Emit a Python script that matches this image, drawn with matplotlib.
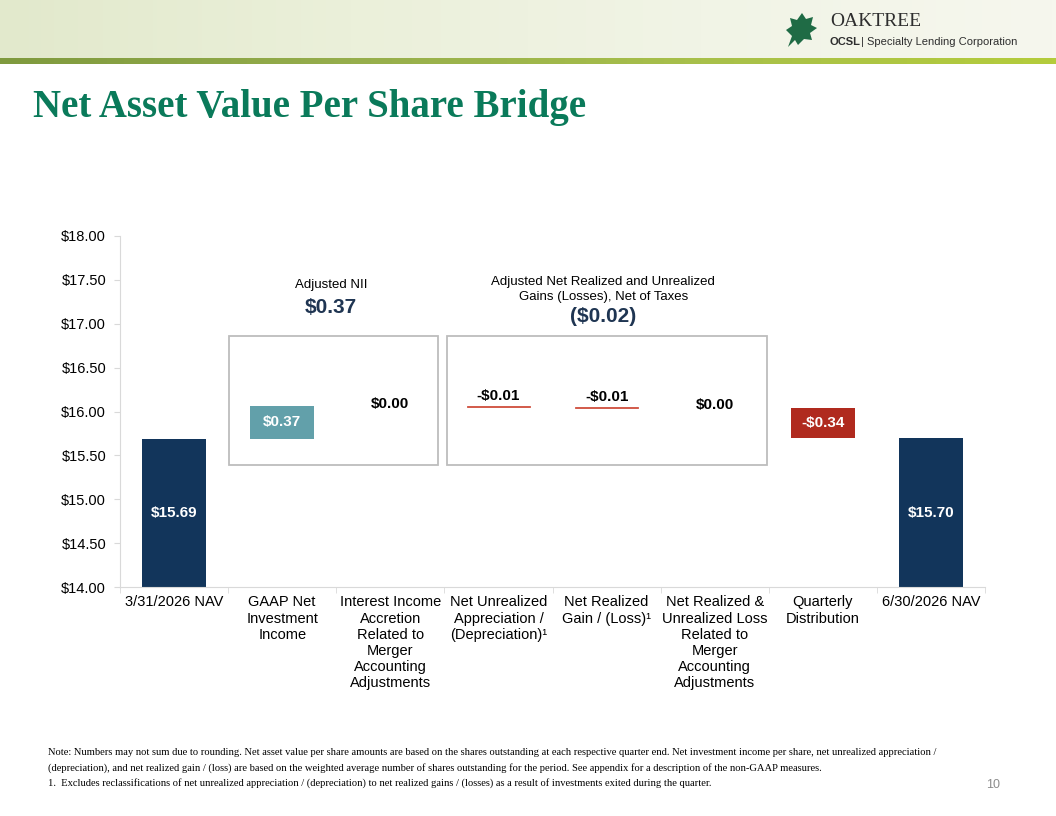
import numpy as np
import matplotlib
matplotlib.use("Agg")
import matplotlib.pyplot as plt
from matplotlib.patches import Rectangle, Polygon
from matplotlib.colors import LinearSegmentedColormap

# ---- data ----
categories = [
    "3/31/2026 NAV",
    "GAAP Net\nInvestment\nIncome",
    "Interest Income\nAccretion\nRelated to\nMerger\nAccounting\nAdjustments",
    "Net Unrealized\nAppreciation /\n(Depreciation)\u00b9",
    "Net Realized\nGain / (Loss)\u00b9",
    "Net Realized &\nUnrealized Loss\nRelated to\nMerger\nAccounting\nAdjustments",
    "Quarterly\nDistribution",
    "6/30/2026 NAV",
]
start_nav = 15.69
changes = [0.37, 0.00, -0.01, -0.01, 0.00, -0.34]
end_nav = 15.70
change_labels = ["$0.37", "$0.00", "-$0.01", "-$0.01", "$0.00", "-$0.34"]
yticks = [14.0, 14.5, 15.0, 15.5, 16.0, 16.5, 17.0, 17.5, 18.0]
adj_nii = "$0.37"
adj_gains = "($0.02)"

NAVY = "#12355b"
TEAL = "#62a0aa"
RED = "#b02a1e"
GREEN_TITLE = "#0a7a5a"
SANS = ["Liberation Sans", "DejaVu Sans"]
SERIF = ["Liberation Serif", "DejaVu Serif"]
plt.rcParams["font.family"] = SANS

fig = plt.figure(figsize=(10.56, 8.16), dpi=100)

# ---- header banner ----
hdr = fig.add_axes([0, 1 - 58 / 816, 1, 58 / 816])
grad = np.linspace(0, 1, 256)[None, :]
cm = LinearSegmentedColormap.from_list("hdr", ["#e2e9cc", "#ebf0da", "#f1f4e6", "#f6f7ee"])
hdr.imshow(grad, aspect="auto", cmap=cm, extent=[0, 1, 0, 1])
hdr.set_xlim(0, 1); hdr.set_ylim(0, 1); hdr.axis("off")
stripe = fig.add_axes([0, 1 - 64 / 816, 1, 6 / 816])
cs = LinearSegmentedColormap.from_list("str", ["#7f9a3e", "#96ae4c", "#a8c04a", "#b4cc3c"])
stripe.imshow(grad, aspect="auto", cmap=cs, extent=[0, 1, 0, 1])
stripe.axis("off")

# logo
leaf = Polygon([(788, 47), (792, 36), (786, 30), (792, 26), (790, 18), (797, 20),
                (802, 13), (806, 19), (813, 17), (811, 25), (817, 28), (810, 33),
                (812, 40), (804, 39), (798, 45), (795, 40)],
               closed=True, fc="#1f6b45", ec="none")
leaf.set_transform(matplotlib.transforms.Affine2D().scale(1, -1).translate(0, 816))
fig.patches.append(leaf)
fig.text(830 / 1056, 1 - 22 / 816, "OAKTREE", family=SERIF, fontsize=14,
         color="#2e2e2e", va="center", ha="left")
fig.text(830 / 1056, 1 - 42 / 816, "OCSL", fontsize=8, fontweight="bold",
         color="#2e2e2e", va="center", ha="left")
fig.text(861 / 1056, 1 - 42 / 816, "| Specialty Lending Corporation", fontsize=8,
         color="#2e2e2e", va="center", ha="left")

# title
fig.text(33 / 1056, 1 - 107 / 816, "Net Asset Value Per Share Bridge", family=SERIF,
         fontsize=28, fontweight="bold", color=GREEN_TITLE, va="center", ha="left")

# ---- chart ----
ax = fig.add_axes([120 / 1056, 1 - 587 / 816, 865 / 1056, 351 / 816])
n = len(categories)
x = np.arange(n)
W = 0.59

ax.bar(0, start_nav - 14, bottom=14, width=W, color=NAVY)
ax.bar(n - 1, end_nav - 14, bottom=14, width=W, color=NAVY)
ax.text(0, 14.84, f"${start_nav:.2f}", ha="center", va="center", color="white",
        fontsize=11, fontweight="bold")
ax.text(n - 1, 14.84, f"${end_nav:.2f}", ha="center", va="center", color="white",
        fontsize=11, fontweight="bold")

level = start_nav
for i, (c, lab) in enumerate(zip(changes, change_labels), start=1):
    new = level + c
    if i == 1:
        ax.bar(i, c, bottom=level, width=W, color=TEAL)
        ax.text(i, level + c / 2, lab, ha="center", va="center", color="white",
                fontsize=11, fontweight="bold")
    elif i == 6:
        ax.bar(i, c, bottom=level, width=W, color=RED)
        ax.text(i, level + c / 2, lab, ha="center", va="center", color="white",
                fontsize=11, fontweight="bold")
    elif c == 0:
        ax.text(i, new + 0.03, lab, ha="center", va="center", color="black",
                fontsize=11, fontweight="bold")
    else:
        ax.bar(i, c, bottom=level, width=W, color="#d0503f", ec="#d0503f", lw=0.6)
        ax.text(i, level + 0.04, lab, ha="center", va="bottom", color="black",
                fontsize=11, fontweight="bold")
    level = new

# group boxes
ax.add_patch(Rectangle((0.51, 15.39), 1.93, 1.47, fill=False, ec="#bdbdbd", lw=1.3))
ax.add_patch(Rectangle((2.525, 15.39), 2.96, 1.47, fill=False, ec="#bdbdbd", lw=1.3))

ax.text(1.45, 17.44, "Adjusted NII", ha="center", va="center", fontsize=9.5)
ax.text(1.45, 17.18, adj_nii, ha="center", va="center", fontsize=15,
        fontweight="bold", color="#1f3552")
ax.text(3.97, 17.39, "Adjusted Net Realized and Unrealized\nGains (Losses), Net of Taxes",
        ha="center", va="center", fontsize=9.5, linespacing=1.35)
ax.text(3.97, 17.08, adj_gains, ha="center", va="center", fontsize=15,
        fontweight="bold", color="#1f3552")

ax.set_xlim(-0.5, n - 0.5)
ax.set_ylim(14, 18)
ax.set_yticks(yticks)
ax.set_yticklabels([f"${v:.2f}" for v in yticks], fontsize=10.5)
ax.set_xticks(x)
ax.set_xticklabels(categories, fontsize=10.5, linespacing=1.2)
ax.set_xticks(np.arange(n + 1) - 0.5, minor=True)
ax.tick_params(axis="x", which="major", length=0, pad=6)
ax.tick_params(axis="x", which="minor", length=4, color="#d9d9d9")
ax.tick_params(axis="y", length=4, color="#d9d9d9", pad=6)
for s in ["top", "right"]:
    ax.spines[s].set_visible(False)
for s in ["left", "bottom"]:
    ax.spines[s].set_color("#d9d9d9")

# footnotes
notes = ("Note: Numbers may not sum due to rounding. Net asset value per share amounts are based on the shares "
         "outstanding at each respective quarter end. Net investment income per share, net unrealized appreciation /\n"
         "(depreciation), and net realized gain / (loss) are based on the weighted average number of shares "
         "outstanding for the period. See appendix for a description of the non-GAAP measures.\n"
         "1.  Excludes reclassifications of net unrealized appreciation / (depreciation) to net realized gains / "
         "(losses) as a result of investments exited during the quarter.")
fig.text(48 / 1056, 1 - 748 / 816, notes, family=SERIF, fontsize=7.6, va="top",
         ha="left", linespacing=1.75)
fig.text(1000 / 1056, 1 - 785 / 816, "10", fontsize=9, color="#8c8c8c",
         ha="right", va="center")

fig.savefig("out.png", dpi=100)
